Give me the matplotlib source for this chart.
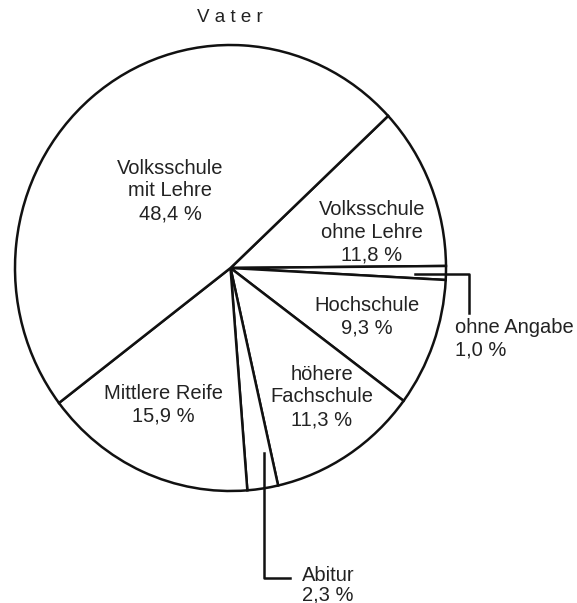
import numpy as np
from matplotlib import pyplot as plt

plt.rcParams['font.family'] = ['Liberation Sans', 'DejaVu Sans']

# Schulbildung des Vaters (Anteile in %)
labels = ['Volksschule\nohne Lehre', 'ohne Angabe', 'Hochschule', 'höhere\nFachschule',
          'Abitur', 'Mittlere Reife', 'Volksschule\nmit Lehre']
values = [11.8, 1.0, 9.3, 11.3, 2.3, 15.9, 48.4]
title = 'V a t e r'

W, H = 577, 603
fig = plt.figure(figsize=(W/100, H/100), dpi=100)
# pie occupies px 15..446 horizontally, 45..491 vertically (slightly oval scan)
ax = fig.add_axes([15/W, (H-491)/H, 431/W, 446/H])

wedges, _ = ax.pie(values, startangle=43, counterclock=False,
                   colors=['white']*len(values),
                   wedgeprops=dict(edgecolor='#111111', linewidth=1.8))
ax.set_aspect('auto')
ax.set_xlim(-1, 1)
ax.set_ylim(-1, 1)
ax.axis('off')

def d(px, py):
    # pixel position -> data coords
    return (px - 230.5)/215.5, (268 - py)/223.0

def pct(v):
    return ('%.1f %%' % v).replace('.', ',')

tc = '#222222'
fs = 14.5
ls = 1.25

# labels inside the slices
inside = {0: (372, 232), 2: (367, 317), 3: (322, 397), 5: (163, 405), 6: (170, 191)}
for i, (px, py) in inside.items():
    x, y = d(px, py)
    ax.text(x, y, labels[i] + '\n' + pct(values[i]), ha='center', va='center',
            fontsize=fs, color=tc, linespacing=ls)

# leader lines for the small slices
lx, ly = zip(*[d(415, 274), d(469, 274), d(469, 313)])
ax.plot(lx, ly, color='#111111', lw=1.8, clip_on=False)
x, y = d(455, 318)
ax.text(x, y, labels[1] + '\n' + pct(values[1]), ha='left', va='top',
        fontsize=fs, color=tc, linespacing=ls)

lx, ly = zip(*[d(264, 453), d(264, 578), d(290, 578)])
ax.plot(lx, ly, color='#111111', lw=1.8, clip_on=False)
x, y = d(302, 585)
ax.text(x, y, labels[4] + '\n' + pct(values[4]), ha='left', va='center',
        fontsize=fs, color=tc, linespacing=1.05)

fig.text(230/W, 1 - 17/H, title, ha='center', va='center', fontsize=13.5, color=tc)

plt.savefig('out.png', dpi=100, facecolor='white')
